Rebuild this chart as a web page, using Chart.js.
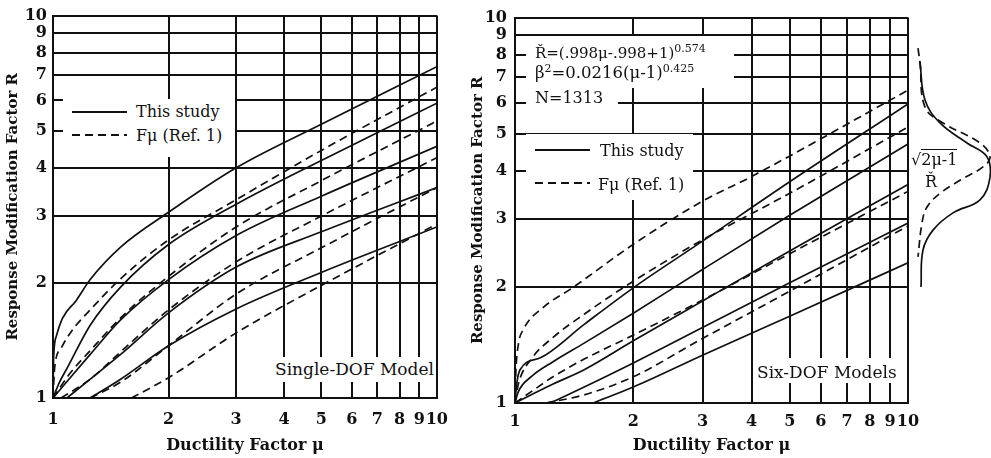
<!DOCTYPE html>
<html>
<head>
<meta charset="utf-8">
<script src="https://cdn.jsdelivr.net/npm/chart.js@4.4.0/dist/chart.umd.min.js"></script>
<style>
  body { margin: 0; width: 991px; height: 458px; overflow: hidden; position: relative; background: #fff; color: #111; font-family: 'DejaVu Serif', serif; }
  canvas { position: absolute; }
  .box { position: absolute; background: #fff; }
  .txt { position: absolute; white-space: nowrap; font-size: 16px; line-height: 16px; }
  .txt sup { font-size: 11px; vertical-align: 6px; line-height: 0; }
  svg { position: absolute; overflow: visible; }
</style>
</head>
<body>
<canvas id="sdof" width="460" height="458" style="left:0;top:0"></canvas>
<canvas id="mdof" width="526" height="458" style="left:465px;top:0"></canvas>
<canvas id="bell" width="86" height="388" style="left:905px;top:15px"></canvas>

<!-- left panel annotations -->
<div class="box" style="left:63px;top:99px;width:172px;height:58px"></div>
<svg style="left:72px;top:111px" width="55" height="2"><line x1="0" y1="1" x2="55" y2="1" stroke="#111" stroke-width="2"/></svg>
<div class="txt" style="left:136px;top:104px">This study</div>
<svg style="left:72px;top:134px" width="55" height="2"><line x1="0" y1="1" x2="55" y2="1" stroke="#111" stroke-width="2" stroke-dasharray="8 5"/></svg>
<div class="txt" style="left:136px;top:128px">Fμ (Ref. 1)</div>
<div class="box" style="left:273px;top:357px;width:162px;height:25px"></div>
<div class="txt" style="left:275px;top:361px;font-size:17px">Single-DOF Model</div>

<!-- right panel annotations -->
<div class="box" style="left:526px;top:36px;width:208px;height:52px"></div>
<div class="box" style="left:526px;top:87px;width:92px;height:21px"></div>
<div class="txt" style="left:535px;top:45px;font-size:15px">Ř=(.998μ-.998+1)<sup>0.574</sup></div>
<div class="txt" style="left:535px;top:65px;font-size:16.5px">β<sup>2</sup>=0.0216(μ-1)<sup>0.425</sup></div>
<div class="txt" style="left:535px;top:90px">N=1313</div>
<div class="box" style="left:526px;top:134px;width:167px;height:66px"></div>
<svg style="left:535px;top:149px" width="55" height="2"><line x1="0" y1="1" x2="55" y2="1" stroke="#111" stroke-width="2"/></svg>
<div class="txt" style="left:600px;top:143px">This study</div>
<svg style="left:535px;top:182px" width="55" height="2"><line x1="0" y1="1" x2="55" y2="1" stroke="#111" stroke-width="2" stroke-dasharray="8 5"/></svg>
<div class="txt" style="left:598px;top:177px">Fμ (Ref. 1)</div>
<div class="box" style="left:755px;top:358px;width:143px;height:25px"></div>
<div class="txt" style="left:757px;top:364px;font-size:17px">Six-DOF Models</div>

<!-- distribution sketch labels -->
<div class="txt" style="left:911px;top:152px">√<span style="border-top:1.5px solid #111">2μ-1</span></div>
<div class="txt" style="left:925px;top:174px">Ř</div>

<script>
const FONT = "'DejaVu Serif', serif";

const xTicks = [1, 2, 3, 4, 5, 6, 7, 8, 9, 10];
const yTicks = [1, 2, 3, 4, 5, 6, 7, 8, 9, 10];

// single-DOF panel, [mu, R]
const sdofStudy = [
  [[1, 1], [1.003, 1.25], [1.02, 1.45], [1.06, 1.62], [1.15, 1.8], [1.25, 2.04], [1.5, 2.48], [2, 3.06], [3, 4.0], [5, 5.2], [10, 7.35]],
  [[1, 1], [1.04, 1.1], [1.09, 1.2], [1.25, 1.55], [1.5, 1.95], [2, 2.52], [3, 3.21], [5, 4.18], [10, 5.9]],
  [[1, 1], [1.1, 1.12], [1.25, 1.3], [1.5, 1.6], [2, 2.04], [3, 2.66], [5, 3.37], [10, 4.55]],
  [[1.087, 1], [1.25, 1.12], [1.5, 1.3], [2, 1.67], [3, 2.2], [5, 2.72], [10, 3.55]],
  [[1.25, 1], [1.5, 1.12], [2, 1.37], [3, 1.71], [5, 2.13], [10, 2.8]]
];
const sdofRef1 = [
  [[1, 1], [1.01, 1.2], [1.05, 1.35], [1.12, 1.5], [1.25, 1.7], [1.5, 2.05], [2, 2.59], [3, 3.3], [5, 4.44], [10, 6.5]],
  [[1, 1], [1.1, 1.15], [1.25, 1.33], [1.5, 1.62], [2, 2.08], [3, 2.8], [5, 3.7], [10, 5.3]],
  [[1.05, 1], [1.25, 1.12], [1.5, 1.32], [2, 1.7], [3, 2.27], [5, 2.99], [10, 4.25]],
  [[1.25, 1], [1.5, 1.1], [2, 1.37], [3, 1.87], [5, 2.47], [10, 3.55]],
  [[1.6, 1], [2, 1.13], [3, 1.48], [5, 1.97], [10, 2.85]]
];

// six-DOF panel
const mdofStudy = [
  [[1, 1], [1.01, 1.12], [1.03, 1.22], [1.16, 1.31], [1.5, 1.6], [2, 1.99], [3, 2.63], [5, 3.75], [10, 5.97]],
  [[1, 1], [1.02, 1.07], [1.1, 1.17], [1.25, 1.28], [1.5, 1.43], [2, 1.71], [3, 2.22], [5, 3.07], [10, 4.7]],
  [[1, 1], [1.1, 1.05], [1.25, 1.12], [1.5, 1.22], [2, 1.45], [3, 1.84], [5, 2.48], [10, 3.69]],
  [[1.23, 1], [1.5, 1.1], [2, 1.27], [3, 1.57], [5, 2.05], [10, 2.93]],
  [[1.58, 1], [2, 1.1], [3, 1.33], [5, 1.68], [10, 2.31]]
];
const mdofRef1 = [
  [[1, 1], [1.005, 1.2], [1.02, 1.42], [1.05, 1.55], [1.18, 1.77], [1.4, 1.99], [2, 2.58], [3, 3.34], [4, 3.87], [10, 6.48]],
  [[1, 1], [1.02, 1.12], [1.1, 1.3], [1.25, 1.48], [1.5, 1.7], [2, 2.07], [3, 2.65], [5, 3.5], [10, 5.2]],
  [[1, 1], [1.1, 1.07], [1.25, 1.17], [1.5, 1.3], [2, 1.5], [3, 1.85], [5, 2.44], [10, 3.54]],
  [[1.2, 1], [1.5, 1.05], [2, 1.17], [3, 1.47], [5, 1.95], [10, 2.88]]
];

// distribution sketch at mu = 10: R and relative density
const bellStudyR = [7.57, 6.04, 5.27, 4.68, 4.31, 3.82, 3.34, 3.09, 2.79, 2.48, 1.99];
const bellStudyD = [2, 7, 22, 49, 69, 72, 62, 35, 15, 5, 3];
const bellRefR = [8.21, 7.52, 5.79, 5.27, 4.68, 4.31, 4.06, 3.75, 3.47, 3.2, 2.91, 2.38];
const bellRefD = [0, 2, 7, 25, 62, 72, 65, 42, 22, 9, 4, 0];

function curve(pts, dashed) {
  return {
    data: pts.map(p => ({ x: p[0], y: p[1] })),
    showLine: true,
    borderColor: "#111",
    borderWidth: 1.7,
    borderDash: dashed ? [8, 5] : [],
    pointRadius: 0,
    cubicInterpolationMode: "monotone",
    fill: false
  };
}

function logAxis(ticks, title, fit, pad, titlePad, titleSize) {
  return {
    type: "logarithmic",
    min: 1,
    max: 10,
    afterBuildTicks: s => { s.ticks = ticks.map(v => ({ value: v })); },
    afterFit: fit,
    grid: { color: "#111", lineWidth: 2, drawTicks: false },
    border: { color: "#111", width: 2 },
    ticks: {
      autoSkip: false,
      maxRotation: 0,
      padding: pad,
      color: "#111",
      font: { family: FONT, size: 16, weight: "bold" },
      callback: v => String(v)
    },
    title: {
      display: true,
      text: title,
      color: "#111",
      padding: titlePad,
      font: { family: FONT, size: titleSize, weight: "bold" }
    }
  };
}

function panel(id, study, ref, opt) {
  const datasets = study.map(c => curve(c, false)).concat(ref.map(c => curve(c, true)));
  return new Chart(document.getElementById(id), {
    type: "scatter",
    data: { datasets },
    options: {
      responsive: false,
      animation: false,
      layout: { padding: opt.padding },
      plugins: { legend: { display: false }, tooltip: { enabled: false } },
      scales: {
        x: logAxis(xTicks, "Ductility Factor μ", s => { s.height = opt.xHeight; }, opt.xPad, { top: 2, bottom: 3 }, 16),
        y: logAxis(yTicks, "Response Modification Factor R", s => { s.width = opt.yWidth; }, opt.yPad, { top: 4, bottom: 2 }, 15)
      }
    }
  });
}

panel("sdof", sdofStudy, sdofRef1, { padding: { top: 11, right: 19, left: 0, bottom: 0 }, xHeight: 60, yWidth: 53, xPad: 12, yPad: 6 });
panel("mdof", mdofStudy, mdofRef1, { padding: { top: 15, right: 83, left: 0, bottom: 0 }, xHeight: 55, yWidth: 50, xPad: 9, yPad: 8 });

// distribution sketch drawn against the same R scale as the six-DOF panel
new Chart(document.getElementById("bell"), {
  type: "scatter",
  data: {
    datasets: [
      Object.assign(curve(bellStudyR.map((r, i) => [bellStudyD[i], r]), false), { cubicInterpolationMode: "default", tension: 0.4, clip: false }),
      Object.assign(curve(bellRefR.map((r, i) => [bellRefD[i], r]), true), { cubicInterpolationMode: "default", tension: 0.4, clip: false })
    ]
  },
  options: {
    responsive: false,
    animation: false,
    layout: { padding: 0 },
    plugins: { legend: { display: false }, tooltip: { enabled: false } },
    scales: {
      x: { type: "linear", min: -13, max: 73, display: false },
      y: { type: "logarithmic", min: 1, max: 10, display: false }
    }
  }
});
</script>
</body>
</html>
